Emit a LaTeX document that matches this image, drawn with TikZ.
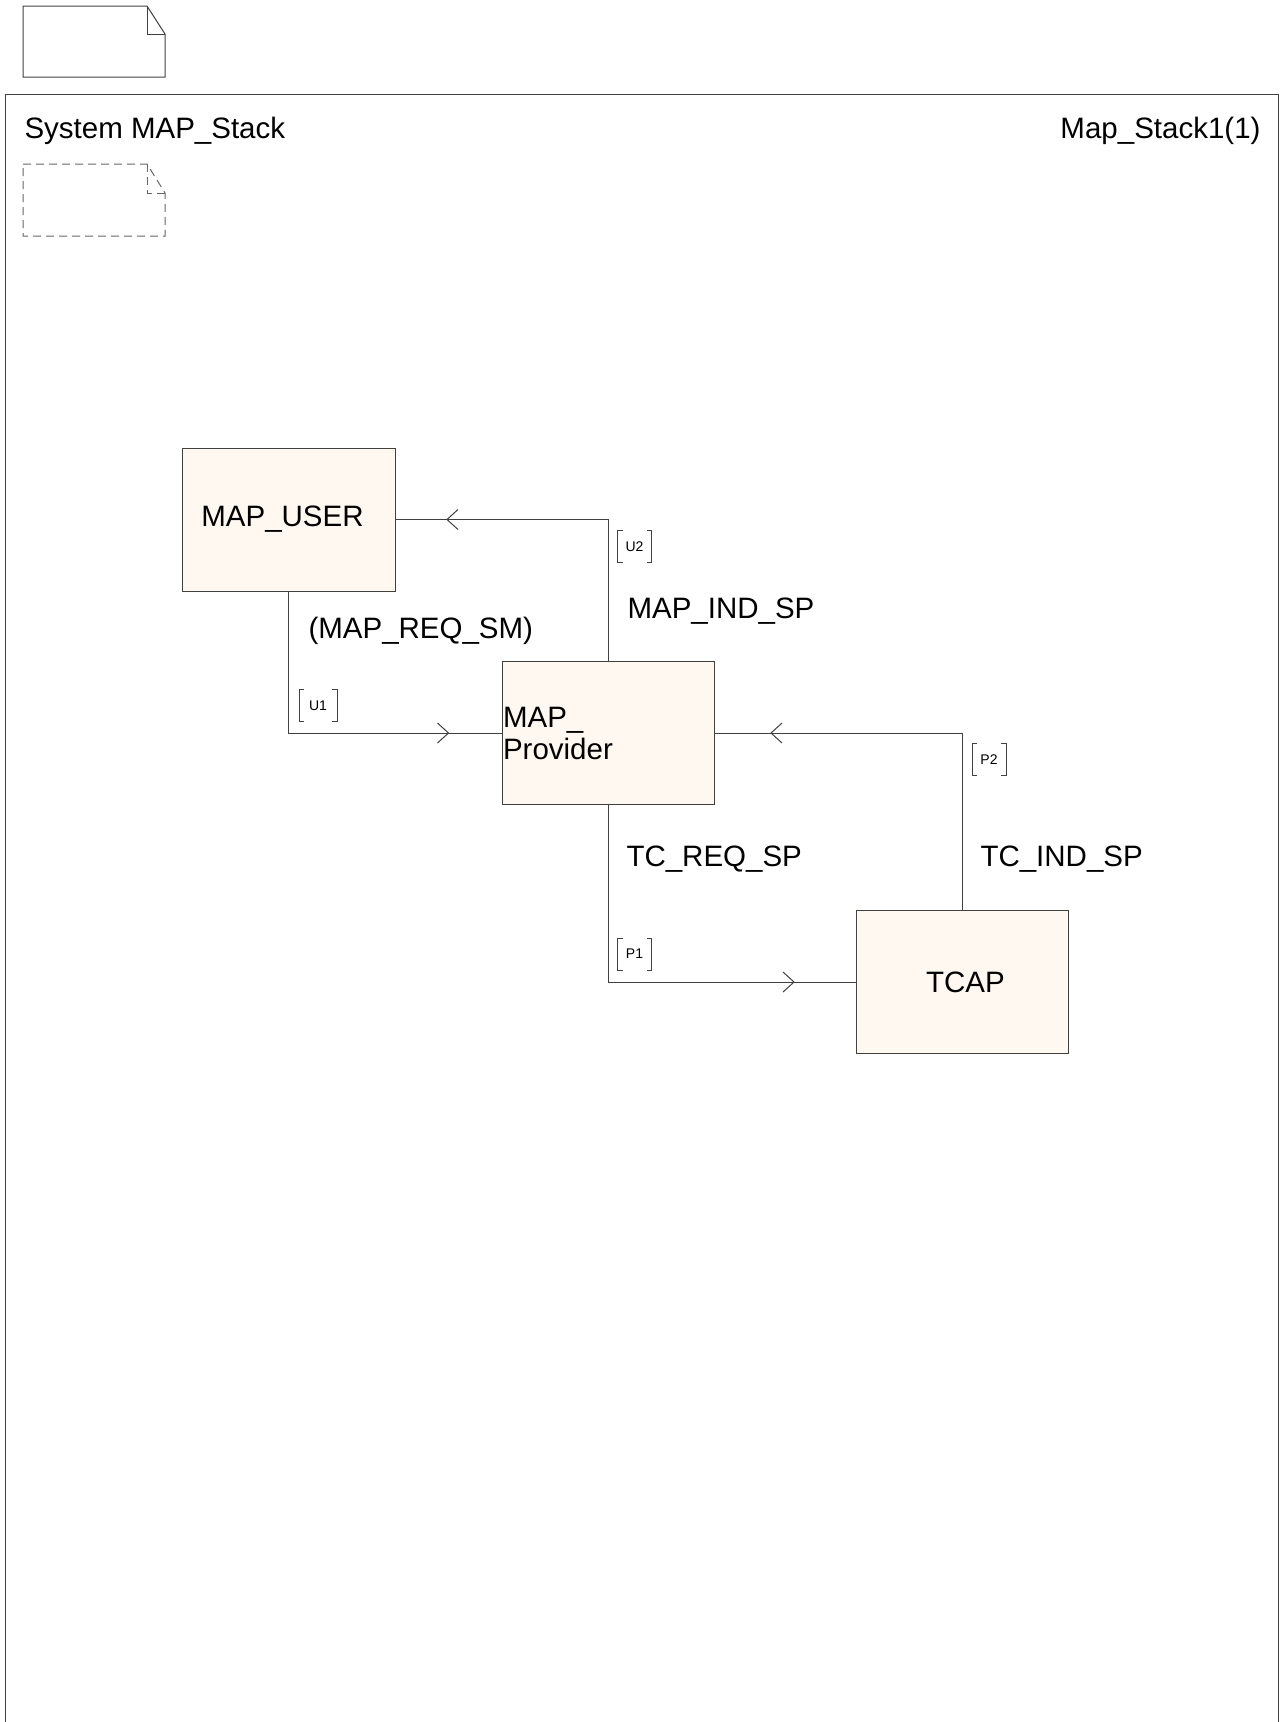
\documentclass[tikz,border=0pt]{standalone}
\usepackage{fontspec}
\setmainfont{Liberation Sans}
\usetikzlibrary{decorations.markings}
\definecolor{lineclr}{RGB}{64,64,64}
\definecolor{blkfill}{RGB}{255,248,240}

\begin{document}
\begin{tikzpicture}[x=1pt, y=-1pt, line width=1pt,
  blk/.style={draw=lineclr, fill=blkfill, minimum width=213pt, minimum height=143pt,
    inner sep=1pt, font=\fontsize{29.5}{32}\selectfont},
  wire/.style={draw=lineclr},
  chev/.style={postaction={decorate, decoration={markings,
    mark=at position #1 with {\draw[lineclr] (-11pt,-10pt) -- (0pt,0pt) -- (-11pt,10pt);}}}},
  gate/.style={minimum width=33pt, minimum height=31pt, inner sep=0pt,
    font=\fontsize{14}{16}\selectfont},
  sig/.style={anchor=base west, inner sep=0pt, font=\fontsize{29.5}{32}\selectfont}]
  \useasboundingbox (0,0) rectangle (1281,1722);
  % page symbols
  \draw[lineclr] (23,6) -- (147,6) -- (165,34) -- (165,77) -- (23,77) -- cycle;
  \draw[lineclr] (147,6) -- (147,34) -- (165,34);
  % frame
  \draw[lineclr] (5,1722) -- (5,94) -- (1278,94) -- (1278,1722);
  \node[sig] (sysname) at (24,138) {System MAP\_Stack};
  \node[sig, anchor=base east] (pagename) at (1261,138) {Map\_Stack1(1)};
  \draw[lineclr!80, dash pattern=on 8pt off 5pt] (23,164) -- (147,164) -- (165,193) -- (165,236) -- (23,236) -- cycle;
  \draw[lineclr!80, dash pattern=on 8pt off 5pt] (147,164) -- (147,193) -- (165,193);
  % blocks
  \node[blk] (user) at (288.5,519.5) {MAP\_USER\hspace*{12pt}};
  \node[blk, minimum width=212pt, text width=210pt, align=left] (prov) at (608,733) {MAP\_\\Provider};
  \node[blk, minimum width=212pt] (tcap) at (962,982) {\hspace*{7pt}TCAP};
  % channels
  \draw[wire, chev=301.5pt] (user.south) |- (prov.west);
  \draw[wire, chev=302.5pt] (prov.north) |- (user.east);
  \draw[wire, chev=363pt]   (prov.south) |- (tcap.west);
  \draw[wire, chev=368pt]   (tcap.north) |- (prov.east);
  % gates
  \node[gate, minimum width=37pt] (u1) at (318,705.5) {U1};
  \node[gate] (u2) at (634.5,546.5) {U2};
  \node[gate] (p1) at (634.5,954) {P1};
  \node[gate] (p2) at (989,759.5) {P2};
  \foreach \g in {u1,u2,p1,p2} {
    \draw[lineclr] ([xshift=5pt]\g.north west) -- (\g.north west) -- (\g.south west) -- ([xshift=5pt]\g.south west);
    \draw[lineclr] ([xshift=-5pt]\g.north east) -- (\g.north east) -- (\g.south east) -- ([xshift=-5pt]\g.south east);
  }
  % signal lists
  \node[sig] (reqsm) at (308,638) {(MAP\_REQ\_SM)};
  \node[sig] (indsp) at (627,618) {MAP\_IND\_SP};
  \node[sig] (tcreq) at (626,866) {TC\_REQ\_SP};
  \node[sig] (tcind) at (980,866) {TC\_IND\_SP};
\end{tikzpicture}
\end{document}
